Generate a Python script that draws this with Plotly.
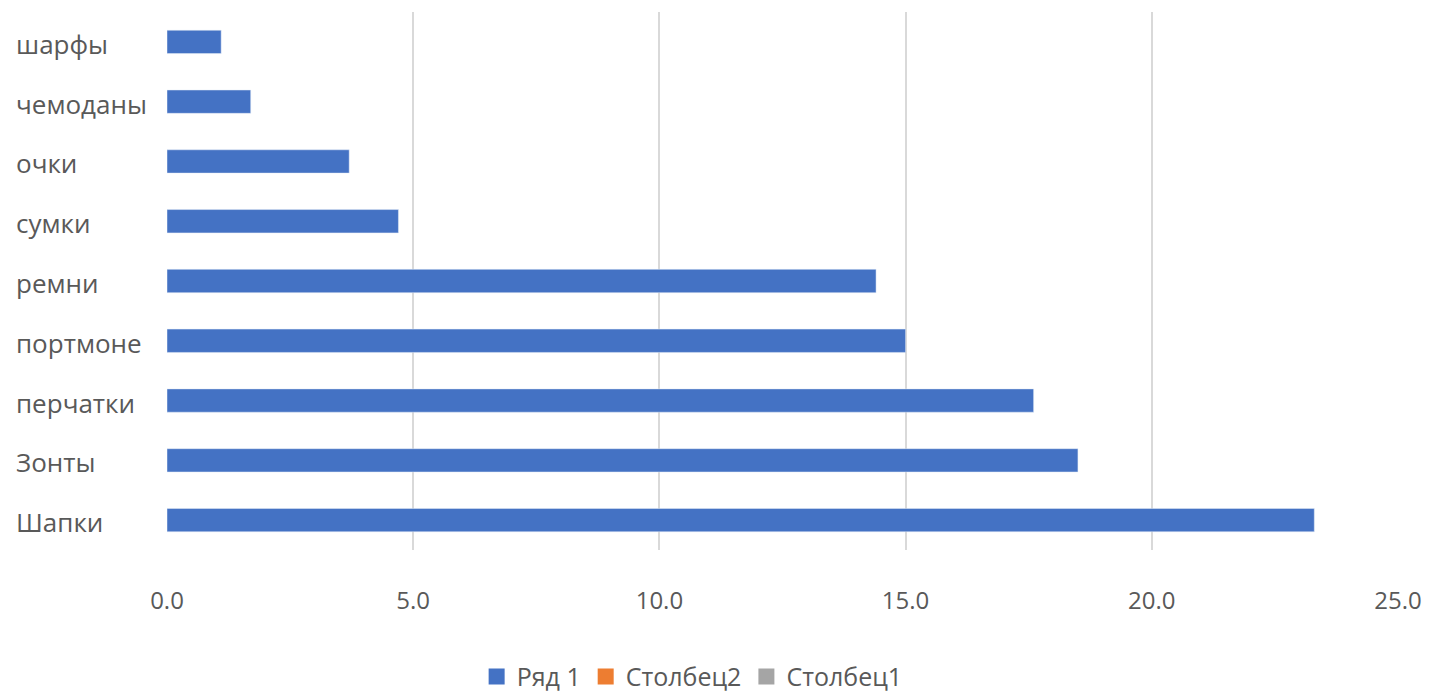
import plotly.graph_objects as go

categories = ["Шапки", "Зонты", "перчатки", "портмоне", "ремни", "сумки", "очки", "чемоданы", "шарфы"]
series1 = [23.3, 18.5, 17.6, 15.0, 14.4, 4.7, 3.7, 1.7, 1.1]
series_names = ["Ряд 1", "Столбец2", "Столбец1"]
series_colors = ["#4472C4", "#ED7D31", "#A5A5A5"]
x_ticks = [0, 5, 10, 15, 20, 25]

FONT = "Open Sans"
TXT = "#595959"

fig = go.Figure()
fig.add_trace(go.Bar(
    y=categories, x=series1, orientation="h", name=series_names[0],
    marker=dict(color=series_colors[0]), width=0.39, showlegend=False,
))
# legend entries (square swatches)
for nm, col in zip(series_names, series_colors):
    fig.add_trace(go.Scatter(x=[None], y=[None], mode="markers", name=nm,
                             marker=dict(symbol="square", size=16, color=col)))

W, H = 1433, 694
L, R, T, B = 167, 35, 12, 144
pw = W - L - R

annotations = []
for c in categories:
    annotations.append(dict(
        x=-(L - 14) / pw, xref="paper", y=c, yref="y", yshift=-2, text=c,
        showarrow=False, xanchor="left", yanchor="middle",
        font=dict(family=FONT, size=26, color=TXT),
    ))

fig.update_layout(
    width=W, height=H,
    margin=dict(l=L, r=R, t=T, b=B),
    paper_bgcolor="white", plot_bgcolor="white",
    barmode="overlay",
    font=dict(family=FONT, size=24, color=TXT),
    xaxis=dict(range=[0, 25], tickvals=x_ticks, tickformat=".1f",
               showgrid=True, gridcolor="#D9D9D9", gridwidth=1.5,
               zeroline=False, showline=False, ticks="",
               ticklabelstandoff=34,
               tickfont=dict(family=FONT, size=24, color=TXT)),
    yaxis=dict(type="category", categoryorder="array", categoryarray=categories,
               showticklabels=False, showgrid=False, zeroline=False, showline=False,
               range=[-0.5, len(categories) - 0.5]),
    legend=dict(orientation="h", xref="container", yref="container",
                x=0.483, xanchor="center", y=0.025, yanchor="middle",
                font=dict(family=FONT, size=25, color=TXT),
                itemsizing="trace", traceorder="normal", itemwidth=30),
    annotations=annotations,
    showlegend=True,
)

fig.write_html("out.html")
